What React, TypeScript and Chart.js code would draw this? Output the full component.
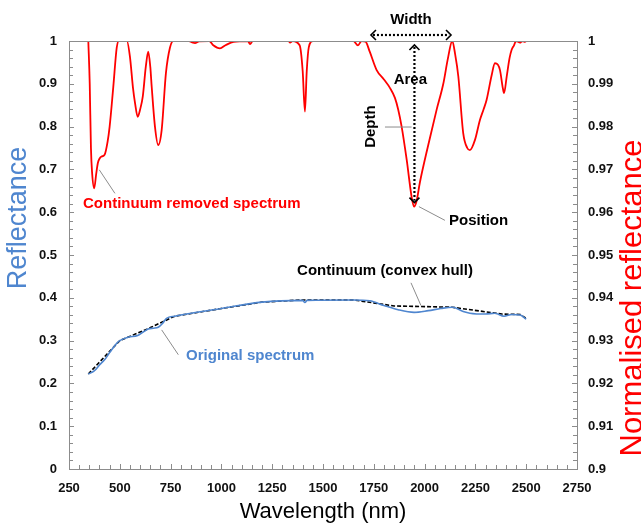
import { useEffect, useRef } from "react";
import { Chart, registerables } from "chart.js";

Chart.register(...registerables);

const FONT = '"Liberation Sans", Arial, Helvetica, sans-serif';
const RED = "#ff0000";
const BLUE = "#4f86cf";
const GREY = "#8c8c8c";

// Continuum-removed spectrum (normalised reflectance, right axis)
const removedNm = [
  345, 352, 358, 364, 374, 384, 392, 400, 410, 425, 440, 450, 468, 485, 495, 535, 550, 565, 575,
  588, 600, 613, 628, 640, 650, 657, 673, 689, 706, 727, 747, 763, 840, 860, 870, 890, 940, 960,
  993, 1020, 1060, 1130, 1141, 1155, 1330, 1338, 1350, 1385, 1400, 1411, 1420, 1430, 1450, 1650,
  1672, 1690, 1710, 1730, 1764, 1800, 1830, 1854, 1870, 1887, 1912, 1936, 1948, 1960, 1977, 2018,
  2059, 2092, 2115, 2136, 2150, 2166, 2190, 2210, 2223, 2248, 2272, 2290, 2305, 2330, 2346, 2360,
  2371, 2385, 2391, 2404, 2418, 2428, 2440, 2450, 2470, 2480, 2494, 2500,
];
const removedVal = [
  1.0, 0.99, 0.975, 0.969, 0.9656, 0.969, 0.9715, 0.9725, 0.973, 0.9734, 0.9765, 0.98, 0.9893,
  0.9985, 1.0, 1.0, 0.9963, 0.989, 0.9855, 0.9823, 0.984, 0.987, 0.994, 0.9975, 0.994, 0.9893,
  0.98, 0.9757, 0.9792, 0.9925, 0.9985, 1.0, 1.0, 0.9996, 0.9995, 0.9999, 1.0, 0.999, 0.9983,
  0.999, 0.9998, 1.0, 0.9993, 1.0, 1.0, 0.9996, 1.0, 0.999, 0.993, 0.9835, 0.993, 0.9985, 1.0,
  1.0, 0.999, 1.0, 0.9998, 0.9975, 0.9932, 0.991, 0.989, 0.9867, 0.984, 0.98, 0.9722, 0.9636,
  0.9613, 0.9625, 0.967, 0.9757, 0.9839, 0.99, 0.996, 1.0, 0.997, 0.9917, 0.9785, 0.975, 0.9745,
  0.9769, 0.9815, 0.984, 0.9862, 0.992, 0.9948, 0.9945, 0.9932, 0.989, 0.9878, 0.9917, 0.996,
  0.9979, 0.999, 1.0, 0.9996, 1.0, 0.9998, 1.0,
];

// Original reflectance spectrum (left axis)
const originalNm = [
  345, 374, 400, 425, 450, 485, 500, 540, 588, 615, 640, 665, 689, 710, 730, 770, 1000, 1200,
  1400, 1411, 1422, 1650, 1730, 1800, 1870, 1948, 2018, 2080, 2136, 2190, 2223, 2300, 2346, 2391,
  2430, 2470, 2500,
];
const originalVal = [
  0.222, 0.229, 0.243, 0.255, 0.272, 0.294, 0.3, 0.308, 0.312, 0.32, 0.327, 0.329, 0.331, 0.34,
  0.352, 0.357, 0.375, 0.39, 0.394, 0.389, 0.394, 0.395, 0.393, 0.382, 0.372, 0.366, 0.37, 0.375,
  0.378, 0.368, 0.364, 0.362, 0.364, 0.357, 0.361, 0.36, 0.35,
];

// Continuum (upper convex hull of the original spectrum)
const hullNm = [345, 500, 640, 770, 1000, 1200, 1400, 1650, 1850, 2136, 2380, 2470, 2500];
const hullVal = [0.222, 0.3, 0.328, 0.357, 0.375, 0.39, 0.395, 0.395, 0.381, 0.378, 0.362, 0.361, 0.352];

// Axis ranges and tick steps
const xRange = [250, 2750];
const xStep = 250;
const xMinorStep = 50;
const leftRange = [0, 1];
const leftStep = 0.1;
const leftMinorStep = 0.02;
const rightRange = [0.9, 1];
const rightStep = 0.01;
const rightMinorStep = 0.002;

// Main absorption feature (for the width / depth / position markers)
const featureStartNm = 1736;
const featureEndNm = 2130;
const featurePositionNm = 1950;
const featureMinimum = 0.9613;

const pts = (xs: number[], ys: number[]) => xs.map((x, i) => ({ x, y: ys[i] }));

const fmt = (v: number | string) => String(Number(Number(v).toFixed(3)));

function drawArrowHead(ctx: CanvasRenderingContext2D, x: number, y: number, dir: string, s: number) {
  ctx.beginPath();
  if (dir === "left") {
    ctx.moveTo(x + s, y - s);
    ctx.lineTo(x, y);
    ctx.lineTo(x + s, y + s);
  } else if (dir === "right") {
    ctx.moveTo(x - s, y - s);
    ctx.lineTo(x, y);
    ctx.lineTo(x - s, y + s);
  } else if (dir === "up") {
    ctx.moveTo(x - s, y + s);
    ctx.lineTo(x, y);
    ctx.lineTo(x + s, y + s);
  } else {
    ctx.moveTo(x - s, y - s);
    ctx.lineTo(x, y);
    ctx.lineTo(x + s, y - s);
  }
  ctx.stroke();
}

const decorations = {
  id: "decorations",
  afterDraw(chart: any) {
    const { ctx, chartArea: a, scales } = chart;
    const xs = scales.x;
    const yl = scales.y;
    const yr = scales.y2;
    ctx.save();

    // frame
    ctx.strokeStyle = GREY;
    ctx.lineWidth = 1;
    ctx.setLineDash([]);
    ctx.strokeRect(Math.round(a.left) + 0.5, Math.round(a.top) + 0.5, Math.round(a.right - a.left), Math.round(a.bottom - a.top));

    // inward tick marks
    ctx.beginPath();
    for (let v = xRange[0]; v <= xRange[1] + 1e-9; v += xMinorStep) {
      const px = Math.round(xs.getPixelForValue(v)) + 0.5;
      const major = Math.abs(v / xStep - Math.round(v / xStep)) < 1e-6;
      ctx.moveTo(px, a.bottom);
      ctx.lineTo(px, a.bottom - (major ? 5 : 4));
    }
    for (let v = leftRange[0]; v <= leftRange[1] + 1e-9; v += leftMinorStep) {
      const py = Math.round(yl.getPixelForValue(v)) + 0.5;
      const major = Math.abs(v / leftStep - Math.round(v / leftStep)) < 1e-6;
      ctx.moveTo(a.left, py);
      ctx.lineTo(a.left + (major ? 5 : 4), py);
    }
    for (let v = rightRange[0]; v <= rightRange[1] + 1e-9; v += rightMinorStep) {
      const py = Math.round(yr.getPixelForValue(v)) + 0.5;
      const major = Math.abs(v / rightStep - Math.round(v / rightStep)) < 1e-6;
      ctx.moveTo(a.right, py);
      ctx.lineTo(a.right - (major ? 5 : 4), py);
    }
    ctx.stroke();

    // axis titles
    ctx.textAlign = "center";
    ctx.textBaseline = "middle";
    ctx.fillStyle = "#000";
    ctx.font = `22px ${FONT}`;
    ctx.fillText("Wavelength (nm)", (a.left + a.right) / 2, 512);

    ctx.save();
    ctx.translate(19, 218);
    ctx.rotate(-Math.PI / 2);
    ctx.fillStyle = BLUE;
    ctx.font = `27px ${FONT}`;
    ctx.fillText("Reflectance", 0, 0);
    ctx.restore();

    ctx.save();
    ctx.translate(633, 298);
    ctx.rotate(-Math.PI / 2);
    ctx.fillStyle = RED;
    ctx.font = `31px ${FONT}`;
    ctx.fillText("Normalised reflectance", 0, 0);
    ctx.restore();

    // leader lines
    const X = (v: number) => xs.getPixelForValue(v);
    const L = (v: number) => yl.getPixelForValue(v);
    const R = (v: number) => yr.getPixelForValue(v);
    ctx.strokeStyle = GREY;
    ctx.lineWidth = 1;
    const leader = (x1: number, y1: number, x2: number, y2: number) => {
      ctx.beginPath();
      ctx.moveTo(x1, y1);
      ctx.lineTo(x2, y2);
      ctx.stroke();
    };
    leader(X(399), R(0.9699), X(476), R(0.9644));
    leader(X(706), L(0.325), X(788), L(0.267));
    leader(X(1933), L(0.435), X(1982), L(0.382));
    leader(X(1972), R(0.9613), X(2100), R(0.9581));
    leader(X(1805), R(0.9799), X(1936), R(0.9799));

    // labels
    ctx.font = `bold 15px ${FONT}`;
    ctx.textAlign = "left";
    ctx.fillStyle = RED;
    ctx.fillText("Continuum removed spectrum", X(319), R(0.9619));
    ctx.fillStyle = BLUE;
    ctx.fillText("Original spectrum", X(826), L(0.264));
    ctx.fillStyle = "#000";
    ctx.fillText("Position", X(2120), R(0.958));
    ctx.textAlign = "center";
    ctx.fillText("Continuum (convex hull)", X(1805), L(0.463));
    ctx.fillText("Area", X(1930), R(0.9909));
    const midW = (featureStartNm + featureEndNm) / 2;
    ctx.fillText("Width", X(midW), a.top - 21);
    ctx.save();
    ctx.translate(X(1736), R(0.98));
    ctx.rotate(-Math.PI / 2);
    ctx.fillText("Depth", 0, 0);
    ctx.restore();

    // dotted measurement arrows
    ctx.strokeStyle = "#000";
    ctx.lineWidth = 2.2;
    ctx.setLineDash([2, 2]);
    const wy = a.top - 6;
    const wx1 = X(featureStartNm);
    const wx2 = X(featureEndNm);
    ctx.beginPath();
    ctx.moveTo(wx1 + 2, wy);
    ctx.lineTo(wx2 - 2, wy);
    ctx.stroke();
    const px = X(featurePositionNm);
    const py1 = R(1) + 4;
    const py2 = R(featureMinimum) - 4;
    ctx.beginPath();
    ctx.moveTo(px, py1 + 2);
    ctx.lineTo(px, py2 - 2);
    ctx.stroke();
    ctx.setLineDash([]);
    ctx.lineWidth = 1.6;
    drawArrowHead(ctx, wx1, wy, "left", 5);
    drawArrowHead(ctx, wx2, wy, "right", 5);
    drawArrowHead(ctx, px, py1, "up", 5);
    drawArrowHead(ctx, px, py2, "down", 5);

    ctx.restore();
  },
};

export default function App() {
  const ref = useRef<HTMLCanvasElement | null>(null);

  useEffect(() => {
    const canvas = ref.current;
    if (!canvas) return;
    const tickFont = { family: FONT, size: 13, weight: "bold" as const };
    const noGrid = { display: false, drawTicks: false };
    const chart = new Chart(canvas, {
      type: "line",
      data: {
        datasets: [
          {
            label: "Original spectrum",
            data: pts(originalNm, originalVal),
            yAxisID: "y",
            borderColor: BLUE,
            borderWidth: 1.6,
            pointRadius: 0,
            cubicInterpolationMode: "monotone",
          },
          {
            label: "Continuum (convex hull)",
            data: pts(hullNm, hullVal),
            yAxisID: "y",
            borderColor: "#000",
            borderWidth: 1.6,
            borderDash: [4, 2],
            pointRadius: 0,
            tension: 0,
          },
          {
            label: "Continuum removed spectrum",
            data: pts(removedNm, removedVal),
            yAxisID: "y2",
            borderColor: RED,
            borderWidth: 1.8,
            pointRadius: 0,
            cubicInterpolationMode: "monotone",
          },
        ],
      },
      options: {
        responsive: false,
        animation: false,
        devicePixelRatio: 1,
        layout: { padding: { top: 41, left: 0, right: 0, bottom: 0 } },
        plugins: { legend: { display: false }, tooltip: { enabled: false } },
        scales: {
          x: {
            type: "linear",
            min: xRange[0],
            max: xRange[1],
            grid: noGrid,
            border: { display: false },
            ticks: { stepSize: xStep, font: tickFont, color: "#111", padding: 12, maxRotation: 0, autoSkip: false, callback: (v: any) => fmt(v) },
            afterFit: (s: any) => {
              s.height = 54;
            },
          },
          y: {
            type: "linear",
            position: "left",
            min: leftRange[0],
            max: leftRange[1],
            grid: noGrid,
            border: { display: false },
            ticks: { stepSize: leftStep, font: tickFont, color: "#111", padding: 12, callback: (v: any) => fmt(v) },
            afterFit: (s: any) => {
              s.width = 69;
            },
          },
          y2: {
            type: "linear",
            position: "right",
            min: rightRange[0],
            max: rightRange[1],
            grid: noGrid,
            border: { display: false },
            ticks: { stepSize: rightStep, font: tickFont, color: "#111", padding: 11, callback: (v: any) => fmt(v) },
            afterFit: (s: any) => {
              s.width = 64;
            },
          },
        },
      },
      plugins: [decorations],
    });
    return () => chart.destroy();
  }, []);

  return (
    <div style={{ position: "fixed", left: 0, top: 0, width: 641, height: 523, background: "#fff" }}>
      <canvas ref={ref} width={641} height={523} style={{ display: "block" }} />
    </div>
  );
}
